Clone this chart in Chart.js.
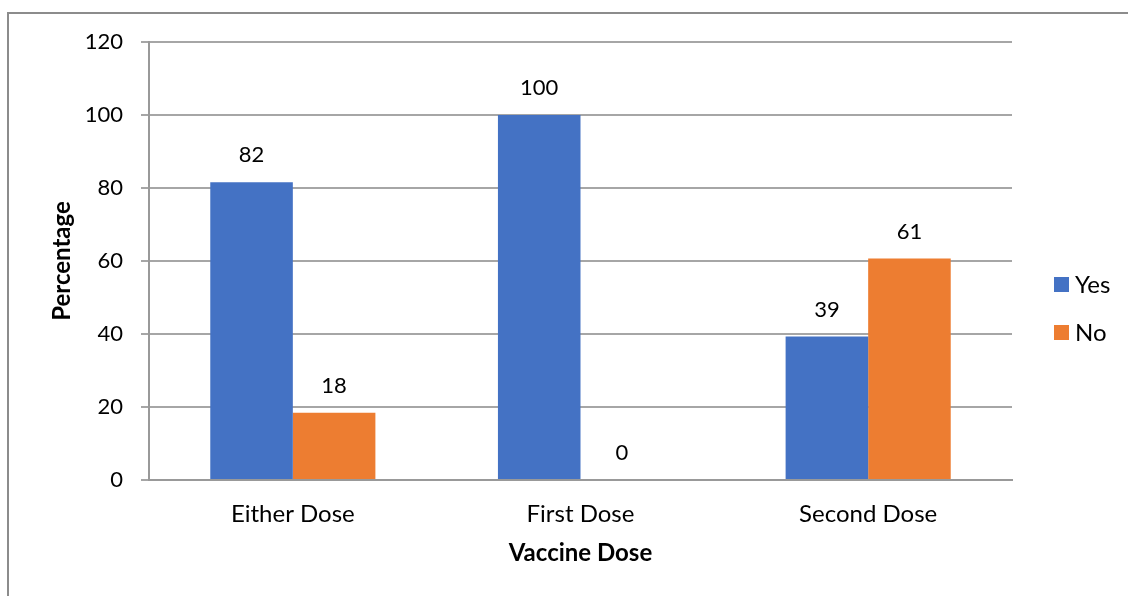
<!DOCTYPE html>
<html>
<head>
<meta charset="utf-8">
<script src="https://cdn.jsdelivr.net/npm/chart.js@4.4.1/dist/chart.umd.min.js"></script>
<style>
  html, body { margin: 0; padding: 0; background: #fff; }
  #wrap { width: 1128px; height: 596px; position: relative; }
</style>
</head>
<body>
<div id="wrap"><canvas id="c" width="1128" height="596"></canvas></div>
<script>
const categories = ['Either Dose', 'First Dose', 'Second Dose'];
const yesValues = [81.6, 100, 39.3];
const noValues = [18.4, 0, 60.7];
const yesLabels = ['82', '100', '39'];
const noLabels = ['18', '0', '61'];
const seriesNames = ['Yes', 'No'];
const yTicks = [0, 20, 40, 60, 80, 100, 120];

const FONT = 'Lato, "Open Sans", sans-serif';
const FS = 22;
const FS_TEXT = 24;

const borderPlugin = {
  id: 'frame',
  beforeDraw(chart) {
    const ctx = chart.ctx;
    ctx.save();
    ctx.fillStyle = '#fff';
    ctx.fillRect(0, 0, chart.width, chart.height);
    ctx.strokeStyle = '#8c8c8c';
    ctx.lineWidth = 2;
    ctx.beginPath();
    ctx.moveTo(8, chart.height + 5);
    ctx.lineTo(8, 13);
    ctx.lineTo(chart.width + 5, 13);
    ctx.stroke();
    ctx.restore();
  }
};

const labelPlugin = {
  id: 'valueLabels',
  afterDatasetsDraw(chart) {
    const ctx = chart.ctx;
    const lbls = [yesLabels, noLabels];
    ctx.save();
    ctx.font = FS + 'px ' + FONT;
    ctx.fillStyle = '#000';
    ctx.textAlign = 'center';
    ctx.textBaseline = 'middle';
    chart.data.datasets.forEach((ds, i) => {
      const meta = chart.getDatasetMeta(i);
      meta.data.forEach((bar, j) => {
        ctx.fillText(lbls[i][j], bar.x, bar.y - 27);
      });
    });
    ctx.restore();
  }
};

const legendPlugin = {
  id: 'sideLegend',
  afterDraw(chart) {
    const ctx = chart.ctx;
    const ys = [284, 332];
    ctx.save();
    ctx.font = FS_TEXT + 'px ' + FONT;
    ctx.textBaseline = 'middle';
    ctx.textAlign = 'left';
    chart.data.datasets.forEach((ds, i) => {
      ctx.fillStyle = ds.backgroundColor;
      ctx.fillRect(1054, ys[i] - 7, 15, 15);
      ctx.fillStyle = '#000';
      ctx.fillText(ds.label, 1075, ys[i] + 1);
    });
    ctx.restore();
  }
};

new Chart(document.getElementById('c'), {
  type: 'bar',
  data: {
    labels: categories,
    datasets: [
      { label: seriesNames[0], data: yesValues, backgroundColor: '#4472C4', categoryPercentage: 0.574, barPercentage: 1.0 },
      { label: seriesNames[1], data: noValues, backgroundColor: '#ED7D31', categoryPercentage: 0.574, barPercentage: 1.0 }
    ]
  },
  options: {
    responsive: false,
    animation: false,
    layout: { padding: { top: 42, right: 116, left: 0, bottom: 0 } },
    plugins: { legend: { display: false }, tooltip: { enabled: false } },
    scales: {
      x: {
        grid: { display: false, drawTicks: false },
        border: { display: true, color: '#999', width: 2 },
        ticks: { color: '#000', font: { family: FONT, size: FS_TEXT }, padding: 20, maxRotation: 0 },
        title: { display: true, text: 'Vaccine Dose', color: '#000', font: { family: FONT, size: 24, weight: 'bold' }, padding: { top: 0, bottom: 28 } },
        afterFit(scale) { scale.height = 116; }
      },
      y: {
        min: 0, max: 120,
        afterBuildTicks(scale) { scale.ticks = yTicks.map(v => ({ value: v })); },
        grid: { color: '#a6a6a6', lineWidth: 2, tickLength: 8, drawTicks: true },
        border: { display: true, color: '#999', width: 2 },
        ticks: { color: '#000', font: { family: FONT, size: FS }, padding: 18 },
        title: { display: true, text: 'Percentage', color: '#000', font: { family: FONT, size: 24, weight: 'bold' }, padding: { top: 48, bottom: 0 } },
        afterFit(scale) { scale.width = 149; }
      }
    }
  },
  plugins: [borderPlugin, labelPlugin, legendPlugin]
});
</script>
</body>
</html>
